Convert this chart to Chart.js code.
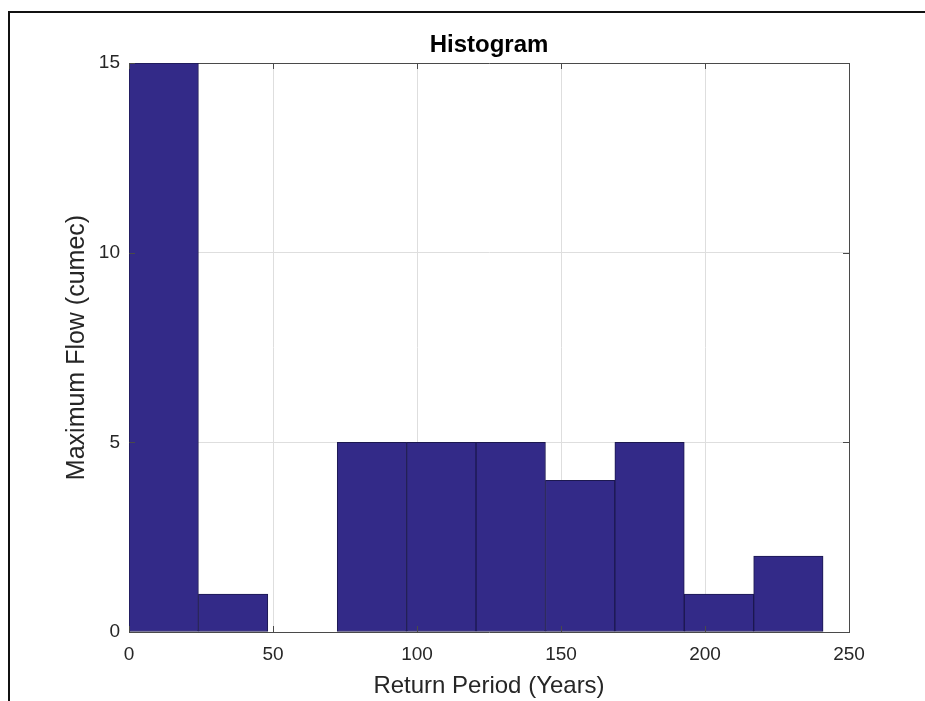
<!DOCTYPE html>
<html>
<head>
<meta charset="utf-8">
<script src="https://cdn.jsdelivr.net/npm/chart.js@4.4.1/dist/chart.umd.min.js"></script>
<style>
  html, body { margin: 0; padding: 0; background: #fff; }
  #wrap { position: relative; width: 925px; height: 701px; overflow: hidden; }
  #frame { position: absolute; left: 8px; top: 11px; width: 1000px; height: 800px;
           border-left: 2px solid #111; border-top: 2px solid #111; pointer-events: none; }
  canvas { position: absolute; left: 0; top: 0; }
</style>
</head>
<body>
<div id="wrap">
  <canvas id="c" width="925" height="701"></canvas>
  <div id="frame"></div>
</div>
<script>
// ---- data ----
const binCenters = [12.05, 36.15, 60.25, 84.35, 108.45, 132.55, 156.65, 180.75, 204.85, 228.95];
const binCounts  = [15, 1, 0, 5, 5, 5, 4, 5, 1, 2];
const xTicks = [0, 50, 100, 150, 200, 250];
const yTicks = [0, 5, 10, 15];
const titleText = 'Histogram';
const xTitle = 'Return Period (Years)';
const yTitle = 'Maximum Flow (cumec)';

const FONT = "'Liberation Sans', Arial, Helvetica, sans-serif";
const AXIS_COLOR = '#4a4a4a';
const TEXT_COLOR = '#262626';

const points = binCenters.map((x, i) => ({ x: x, y: binCounts[i] }));

const insideTicks = {
  id: 'insideTicks',
  afterDatasetsDraw(chart) {
    const { ctx, chartArea: a, scales } = chart;
    const L = 6;
    ctx.save();
    ctx.strokeStyle = AXIS_COLOR;
    ctx.lineWidth = 1;
    ctx.beginPath();
    xTicks.forEach(v => {
      const px = Math.round(scales.x.getPixelForValue(v)) + 0.5;
      ctx.moveTo(px, a.bottom); ctx.lineTo(px, a.bottom - L);
      ctx.moveTo(px, a.top); ctx.lineTo(px, a.top + L);
    });
    yTicks.forEach(v => {
      const py = Math.round(scales.y.getPixelForValue(v)) + 0.5;
      ctx.moveTo(a.left, py); ctx.lineTo(a.left + L, py);
      ctx.moveTo(a.right, py); ctx.lineTo(a.right - L, py);
    });
    ctx.stroke();
    ctx.restore();
  }
};

new Chart(document.getElementById('c'), {
  type: 'bar',
  data: {
    datasets: [{
      data: points,
      backgroundColor: '#332a88',
      borderColor: '#1c1850',
      borderWidth: 1,
      borderSkipped: false,
      barPercentage: 1.0,
      categoryPercentage: 1.0
    }]
  },
  options: {
    responsive: false,
    animation: false,
    layout: { padding: { left: 0, right: 76, top: 0, bottom: 0 } },
    plugins: {
      legend: { display: false },
      tooltip: { enabled: false },
      title: {
        display: true,
        text: titleText,
        fullSize: false,
        color: '#000',
        font: { family: FONT, size: 24, weight: 'bold' },
        padding: { top: 30.6, bottom: 3.6 }
      }
    },
    scales: {
      x: {
        type: 'linear',
        position: 'bottom',
        min: 0, max: 250,
        offset: false,
        afterBuildTicks: s => { s.ticks = xTicks.map(v => ({ value: v })); },
        afterFit: s => { s.height = 69; },
        ticks: { color: TEXT_COLOR, font: { family: FONT, size: 19 }, padding: 11, maxRotation: 0, autoSkip: false },
        grid: { color: '#dedede', lineWidth: 1, drawTicks: false, offset: false },
        border: { display: true, color: AXIS_COLOR, width: 1 },
        title: { display: true, text: xTitle, color: TEXT_COLOR, font: { family: FONT, size: 24 }, padding: { top: 0, bottom: 0 } }
      },
      x2: {
        type: 'linear',
        position: 'top',
        min: 0, max: 250,
        afterFit: s => { s.height = 0; },
        ticks: { display: false },
        grid: { display: false, drawTicks: false },
        border: { display: true, color: AXIS_COLOR, width: 1 }
      },
      y: {
        type: 'linear',
        position: 'left',
        min: 0, max: 15,
        afterBuildTicks: s => { s.ticks = yTicks.map(v => ({ value: v })); },
        afterFit: s => { s.width = 129; },
        ticks: { color: TEXT_COLOR, font: { family: FONT, size: 19 }, padding: 9 },
        grid: { color: '#dedede', lineWidth: 1, drawTicks: false },
        border: { display: true, color: AXIS_COLOR, width: 1 },
        title: { display: true, text: yTitle, color: TEXT_COLOR, font: { family: FONT, size: 25 }, padding: { top: 62, bottom: 0 } }
      },
      y2: {
        type: 'linear',
        position: 'right',
        min: 0, max: 15,
        afterFit: s => { s.width = 0; },
        ticks: { display: false },
        grid: { display: false, drawTicks: false },
        border: { display: true, color: AXIS_COLOR, width: 1 }
      }
    }
  },
  plugins: [insideTicks]
});
</script>
</body>
</html>
